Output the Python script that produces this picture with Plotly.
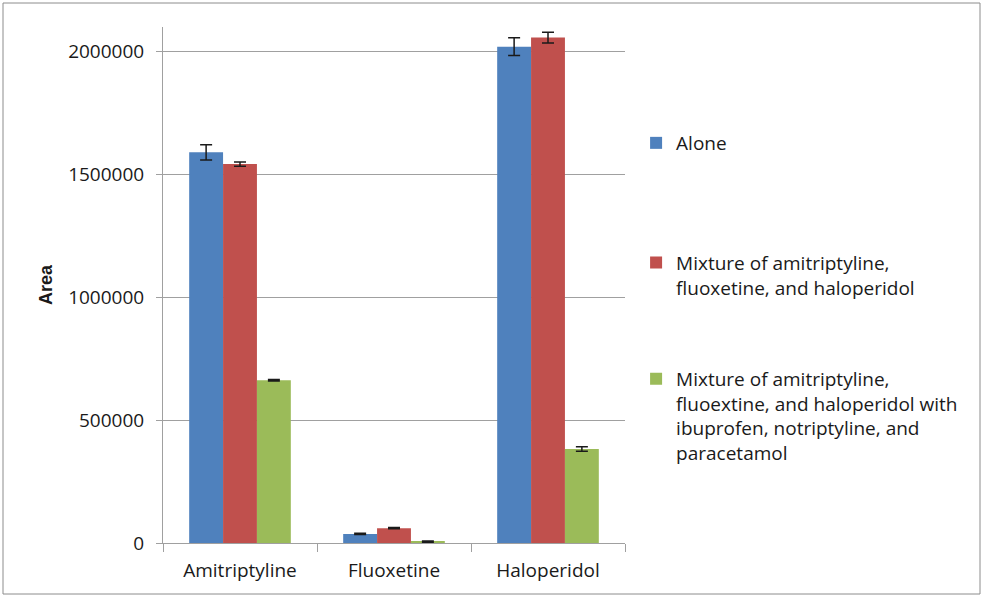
import plotly.graph_objects as go

categories = ["Amitriptyline", "Fluoxetine", "Haloperidol"]

series_names = [
    "Alone",
    "Mixture of amitriptyline,<br>fluoxetine, and haloperidol",
    "Mixture of amitriptyline,<br>fluoextine, and haloperidol with<br>ibuprofen, notriptyline, and<br>paracetamol",
]
alone = [1590000, 37000, 2020000]
alone_err = [31000, 2500, 36000]
mix1 = [1542000, 60500, 2057000]
mix1_err = [9000, 2500, 22000]
mix2 = [662500, 6000, 382500]
mix2_err = [3000, 2500, 9000]

colors = ["#4F81BD", "#C0504D", "#9BBB59"]
values = [alone, mix1, mix2]
errors = [alone_err, mix1_err, mix2_err]
legends = ["legend", "legend2", "legend3"]

FONT = "Open Sans, Liberation Sans, sans-serif"
FS = 19

fig = go.Figure()
for name, vals, errs, col, lg in zip(series_names, values, errors, colors, legends):
    fig.add_trace(go.Bar(
        x=categories, y=vals, name=name, legend=lg, showlegend=True,
        marker=dict(color=col, line=dict(width=0)),
        error_y=dict(type="data", array=errs, visible=True,
                     color="#1a1a1a", thickness=1.5, width=6),
    ))

legend_common = dict(
    x=1.024, xanchor="left", yanchor="top",
    font=dict(family=FONT, size=FS, color="#1a1a1a"),
    bgcolor="rgba(0,0,0,0)", valign="top", itemclick=False,
)
fig.update_layout(
    width=984, height=597,
    margin=dict(l=163, r=359, t=27, b=54),
    paper_bgcolor="white", plot_bgcolor="white",
    showlegend=True,
    barmode="group", bargap=0.34, bargroupgap=0,
    font=dict(family=FONT, size=FS, color="#1a1a1a"),
    legend=dict(y=0.812, **legend_common),
    legend2=dict(y=0.580, **legend_common),
    legend3=dict(y=0.355, **legend_common),
    xaxis=dict(
        showline=True, linecolor="#a0a0a0", linewidth=1,
        ticks="outside", tickson="boundaries", ticklen=8, tickcolor="#a0a0a0",
        showgrid=False, ticklabelstandoff=10,
        tickfont=dict(family=FONT, size=FS, color="#1a1a1a"),
    ),
    yaxis=dict(
        range=[0, 2100000], tick0=0, dtick=500000,
        showline=True, linecolor="#a0a0a0", linewidth=1,
        ticks="outside", ticklen=6, tickcolor="#a0a0a0",
        showgrid=True, gridcolor="#a0a0a0", gridwidth=1,
        zeroline=False, tickformat="d",
        ticklabelstandoff=8,
        tickfont=dict(family=FONT, size=FS, color="#1a1a1a"),
        title=dict(text="<b>Area</b>", standoff=10,
                   font=dict(family="Liberation Sans, Arial, sans-serif", size=18, color="#1a1a1a")),
    ),
    shapes=[dict(
        type="rect", xref="paper", yref="paper",
        x0=(3 - 163) / 462, x1=(980 - 163) / 462,
        y0=(543 - 594) / 516, y1=(543 - 3) / 516,
        line=dict(color="#8c8c8c", width=1), fillcolor="rgba(0,0,0,0)", layer="below",
    )],
)

fig.write_html("out.html", config={"displayModeBar": False},
               post_script="document.body.style.margin='0';")
